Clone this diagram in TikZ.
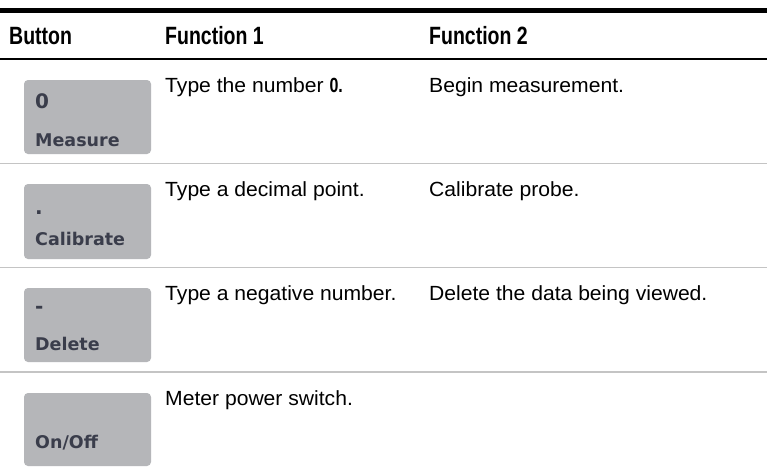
\documentclass[tikz,border=0pt]{standalone}
\usepackage{fontspec}
\setmainfont{Liberation Sans}[FakeStretch=1.03]
\newfontfamily\hdrfont{Liberation Sans}[FakeStretch=0.78]
\newfontfamily\btnfont{DejaVu Sans}
\definecolor{btngray}{HTML}{B5B6B9}
\definecolor{btntext}{HTML}{3A3D4B}
\definecolor{rulegray}{HTML}{C4C4C4}
\begin{document}
\begin{tikzpicture}[x=1pt,y=-1pt,
  hdr/.style={anchor=base west, inner sep=0pt, font=\hdrfont\bfseries\fontsize{25}{29}\selectfont},
  body/.style={anchor=base west, inner sep=0pt, font=\fontsize{20.5}{24}\selectfont},
  btnbox/.style={fill=btngray, rounded corners=4pt},
  btnlbl/.style={anchor=base west, inner sep=0pt, text=btntext, font=\btnfont\bfseries\fontsize{17.5}{21}\selectfont},
  btntop/.style={anchor=base west, inner sep=0pt, text=btntext, font=\btnfont\bfseries\fontsize{20}{24}\selectfont},
  rowrule/.style={draw=rulegray, line width=1.5pt},
]
\useasboundingbox (0,0) rectangle (767,471);
\fill[white] (0,0) rectangle (767,471);
% rules
\draw[line width=5pt] (0,10.5) -- (767,10.5);
\draw[line width=2.6pt] (0,59) -- (767,59);
\draw[rowrule] (0,163.5) -- (767,163.5);
\draw[rowrule] (0,267.5) -- (767,267.5);
\draw[rowrule] (0,372) -- (767,372);
% header
\node[hdr] (h1) at (9,44) {Button};
\node[hdr] (h2) at (165,44) {Function 1};
\node[hdr] (h3) at (429,44) {Function 2};
% buttons
\fill[btnbox] (24,80) rectangle (151,154);
\fill[btnbox] (24,184) rectangle (151,259);
\fill[btnbox] (24,288) rectangle (151,362);
\fill[btnbox] (24,393) rectangle (151,466);
\node[btntop] (k0) at (35,108) {0};
\node[btnlbl] (k0b) at (35,146) {Measure};
\node[btntop] (k1) at (35,214) {.};
\node[btnlbl] (k1b) at (35,245) {Calibrate};
\node[btntop] (k2) at (35,313) {-};
\node[btnlbl] (k2b) at (35,350) {Delete};
\node[btnlbl] (k3b) at (35,448) {On/Off};
% body text
\node[body] (f11) at (165,92) {Type the number {\hdrfont\bfseries 0.}};
\node[body] (f12) at (429,92) {Begin measurement.};
\node[body] (f21) at (165,196) {Type a decimal point.};
\node[body] (f22) at (429,196) {Calibrate probe.};
\node[body] (f31) at (165,300.5) {Type a negative number.};
\node[body] (f32) at (429,300.5) {Delete the data being viewed.};
\node[body] (f41) at (165,405) {Meter power switch.};
\end{tikzpicture}
\end{document}
